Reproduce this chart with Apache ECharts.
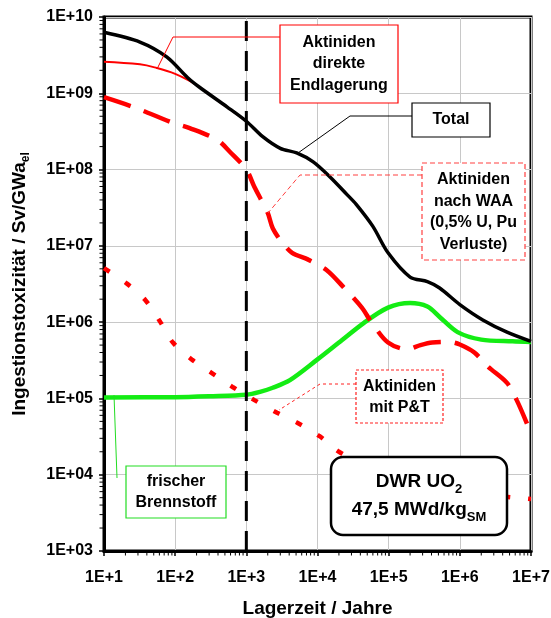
<!DOCTYPE html>
<html><head><meta charset="utf-8">
<script src="https://cdn.jsdelivr.net/npm/echarts@6/dist/echarts.min.js"></script>
<style>html,body{margin:0;padding:0;background:#fff}#c{width:551px;height:618px}</style>
</head><body><div id="c"></div>
<script>
// ---- tick labels ----
const xTickLabels = ['1E+1','1E+2','1E+3','1E+4','1E+5','1E+6','1E+7'];
const yTickLabels = ['1E+03','1E+04','1E+05','1E+06','1E+07','1E+08','1E+09','1E+10'];

// ---- series data (years / Sv per GWa_el) ----
const totalYears  = [10,32,76,150,220,540,1000,1700,3000,5100,8700,15000,26000,35000,60000,98000,2.0e5,3.5e5,5.2e5,1e6,2.1e6,4.6e6,1e7];
const totalValues = [6.3e9,4.7e9,3.0e9,1.6e9,1.2e9,6.6e8,4.3e8,2.7e8,1.9e8,1.65e8,1.26e8,8.0e7,4.7e7,3.5e7,1.8e7,8.1e6,3.9e6,3.4e6,2.8e6,1.7e6,1.07e6,7.4e5,5.6e5];

const directYears  = [10,32,55,100,160,220,540,1000];
const directValues = [2.6e9,2.4e9,2.15e9,1.8e9,1.45e9,1.2e9,6.55e8,4.28e8];

const waaYears  = [10,26,93,160,390,590,1000,1300,2000,2350,3200,4400,7400,13500,23000,42000,58000,98000,1.8e5,2.8e5,4.1e5,7.2e5,1e6,1.6e6,2.5e6,4.6e6,6.3e6,9.1e6,1e7];
const waaValues = [8.9e8,6.6e8,4.1e8,3.5e8,2.45e8,1.7e8,1.0e8,5.9e7,2.7e7,1.7e7,1.1e7,8.1e6,6.6e6,4.8e6,2.9e6,1.55e6,9.8e5,5.4e5,4.4e5,5.0e5,5.4e5,5.5e5,5.1e5,4.0e5,2.6e5,1.6e5,9.5e4,4.3e4,3.3e4];

const ptYears  = [10,21,38,62,93,174,340,650,1300,2700,5200,10700,20000,1e5,1e6,1e7];
const ptValues = [5.1e6,3.2e6,1.95e6,1.0e6,5.4e5,3.2e5,2.1e5,1.4e5,9.5e4,6.5e4,4.8e4,3.2e4,2.0e4,9e3,6e3,4.8e3];

const freshYears  = [10,100,300,1000,1600,2350,4100,9800,20000,45000,98000,2.0e5,3.5e5,5.2e5,9.3e5,2.0e6,5.5e6,1e7];
const freshValues = [1.03e5,1.04e5,1.07e5,1.12e5,1.23e5,1.38e5,1.74e5,3.2e5,5.4e5,9.8e5,1.55e6,1.78e6,1.6e6,1.17e6,7.4e5,5.9e5,5.6e5,5.5e5];

const markerYear = 1000;
const xMin = 10, xMax = 1e7, yMin = 1e3, yMax = 1e10;

const FONT = '"Liberation Sans", Arial, sans-serif';
const zip = (a, b) => a.map((v, i) => [v, b[i]]);

// minor log ticks (2..9 in each decade)
const minorX = [], minorY = [];
for (let e = 1; e < 7; e++) for (let k = 2; k <= 9; k++) minorX.push([k * Math.pow(10, e), yMin]);
for (let e = 3; e < 10; e++) for (let k = 2; k <= 9; k++) minorY.push([xMin, k * Math.pow(10, e)]);

const chart = echarts.init(document.getElementById('c'), null, {renderer: 'canvas'});

function lbl(x, y, text, lh) {
  return {
    type: 'text', z: 101,
    style: {text: text, x: x, y: y, align: 'center', verticalAlign: 'middle',
      textAlign: 'center', textVerticalAlign: 'middle',
      fontFamily: FONT, fontWeight: 'bold', fontSize: 16, lineHeight: lh || 21.5, fill: '#000'}
  };
}
function rect(x, y, w, h, stroke, lw, dash, r) {
  return {type: 'rect', z: 100, shape: {x: x, y: y, width: w, height: h, r: r || 0},
    style: {fill: '#fff', stroke: stroke, lineWidth: lw, lineDash: dash || null}};
}
function poly(points, stroke, dash) {
  return {type: 'polyline', z: 99, shape: {points: points},
    style: {fill: null, stroke: stroke, lineWidth: 1, lineDash: dash || null}};
}

const option = {
  animation: false,
  backgroundColor: '#fff',
  grid: {left: 104, right: 20, top: 17, bottom: 67, containLabel: false, outerBoundsMode: 'none',
    show: true, borderColor: '#000', borderWidth: 3, backgroundColor: 'transparent'},
  xAxis: {
    type: 'log', logBase: 10, min: xMin, max: xMax,
    name: 'Lagerzeit / Jahre', nameLocation: 'middle', nameGap: 48,
    nameTextStyle: {fontFamily: FONT, fontWeight: 'bold', fontSize: 19, color: '#000'},
    axisLine: {show: true, lineStyle: {color: '#000', width: 3}},
    axisTick: {show: true, length: 5, lineStyle: {color: '#000', width: 1.5}},
    axisLabel: {margin: 19, fontFamily: FONT, fontWeight: 'bold', fontSize: 16, color: '#000',
      formatter: v => xTickLabels[Math.round(Math.log10(v)) - 1]},
    splitLine: {show: true, lineStyle: {color: '#c8c8c8', width: 1}}
  },
  yAxis: {
    type: 'log', logBase: 10, min: yMin, max: yMax,
    name: 'Ingestionstoxizität / Sv/GWa{sub|el}', nameLocation: 'middle', nameGap: 72,
    nameTextStyle: {fontFamily: FONT, fontWeight: 'bold', fontSize: 19, color: '#000', lineHeight: 24,
      rich: {sub: {fontFamily: FONT, fontWeight: 'bold', fontSize: 12, color: '#000', lineHeight: 17, verticalAlign: 'bottom'}}},
    axisLine: {show: true, lineStyle: {color: '#000', width: 3}},
    axisTick: {show: true, length: 5, lineStyle: {color: '#000', width: 1.5}},
    axisLabel: {margin: 11, fontFamily: FONT, fontWeight: 'bold', fontSize: 16, color: '#000',
      formatter: v => yTickLabels[Math.round(Math.log10(v)) - 3]},
    splitLine: {show: true, lineStyle: {color: '#c8c8c8', width: 1}}
  },
  series: [
    {type: 'custom', name: 'xminor', data: minorX, clip: false, silent: true, z: 5,
      renderItem: (params, api) => {
        const p = api.coord([api.value(0), api.value(1)]);
        return {type: 'line', shape: {x1: p[0], y1: p[1] + 1, x2: p[0], y2: p[1] + 4.5}, style: {stroke: '#000', lineWidth: 1}};
      }},
    {type: 'custom', name: 'yminor', data: minorY, clip: false, silent: true, z: 5,
      renderItem: (params, api) => {
        const p = api.coord([api.value(0), api.value(1)]);
        return {type: 'line', shape: {x1: p[0] - 1, y1: p[1], x2: p[0] - 4.5, y2: p[1]}, style: {stroke: '#000', lineWidth: 1}};
      }},
    {type: 'line', name: 'frischer Brennstoff', data: zip(freshYears, freshValues), smooth: 0.3, symbol: 'none',
      lineStyle: {color: '#14ec14', width: 4.5}, z: 3},
    {type: 'line', name: 'Aktiniden mit P&T', data: zip(ptYears, ptValues), smooth: 0.3, symbol: 'none',
      lineStyle: {color: '#ff0000', width: 4.5, type: [7, 18], cap: 'butt'}, z: 3},
    {type: 'line', name: 'Aktiniden nach WAA', data: zip(waaYears, waaValues), smooth: 0.3, symbol: 'none',
      lineStyle: {color: '#ff0000', width: 4.5, type: [28, 14], cap: 'butt'}, z: 3},
    {type: 'line', name: 'Aktiniden direkte Endlagerung', data: zip(directYears, directValues), smooth: 0.4, symbol: 'none',
      lineStyle: {color: '#ff0000', width: 2}, z: 3},
    {type: 'line', name: 'Total', data: zip(totalYears, totalValues), smooth: 0.3, symbol: 'none',
      lineStyle: {color: '#000', width: 3.5}, z: 4},
    {type: 'line', name: 'marker', data: [[markerYear, yMin], [markerYear, yMax]], symbol: 'none',
      lineStyle: {color: '#000', width: 3, type: [20, 10], cap: 'butt'}, z: 4}
  ],
  graphic: [
    // leaders
    poly([[280, 37], [173, 37], [157, 69]], '#ff0000'),
    poly([[412, 116], [350, 116], [298, 153]], '#000'),
    poly([[422, 175], [300, 175], [268, 213]], '#ff4040', [5, 3]),
    poly([[356, 384], [320, 384], [279, 410]], '#ff2020', [3, 3]),
    poly([[114, 395], [117, 478]], '#22dd22'),
    // boxes
    rect(280, 25, 118, 78, '#ff0000', 1.2),
    lbl(339, 64, 'Aktiniden\ndirekte\nEndlagerung'),
    rect(412, 103, 78, 34, '#000', 1.2),
    lbl(451, 120, 'Total'),
    rect(422, 163, 103, 97, '#ff4040', 1.2, [5, 3]),
    lbl(473.5, 212, 'Aktiniden\nnach WAA\n(0,5% U, Pu\nVerluste)'),
    rect(356, 370, 87, 53, '#ff2020', 1.2, [3, 2]),
    lbl(399.5, 397, 'Aktiniden\nmit P&T', 20.5),
    rect(126, 466, 100, 52, '#22dd22', 1.2),
    lbl(176, 492, 'frischer\nBrennstoff'),
    rect(331, 457, 176, 78, '#000', 2.5, null, 12),
    {type: 'text', z: 101, style: {
      text: 'DWR UO{sub|2}\n47,5 MWd/kg{sub|SM}', x: 419, y: 496, align: 'center', verticalAlign: 'middle',
      fontFamily: FONT, fontWeight: 'bold', fontSize: 19, lineHeight: 28, fill: '#000',
      rich: {sub: {fontFamily: FONT, fontWeight: 'bold', fontSize: 13, lineHeight: 18, verticalAlign: 'bottom', fill: '#000'}}
    }}
  ]
};
chart.setOption(option);
</script>
</body></html>
